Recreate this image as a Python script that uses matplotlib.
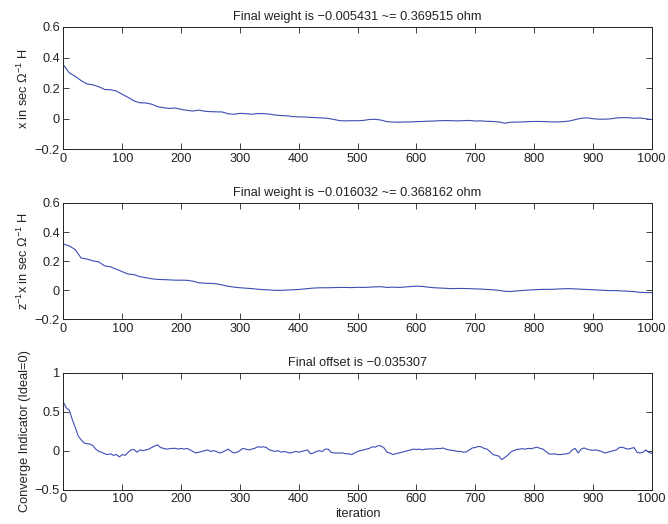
import numpy as np
import matplotlib
matplotlib.use("Agg")
import matplotlib.pyplot as plt

plt.rcParams['font.family'] = ['Liberation Sans', 'DejaVu Sans']
plt.rcParams['mathtext.fontset'] = 'custom'
plt.rcParams['mathtext.rm'] = 'Liberation Sans'
plt.rcParams['mathtext.it'] = 'Liberation Sans:italic'
plt.rcParams['mathtext.bf'] = 'Liberation Sans:bold'

# ---------------- data ----------------
weight_x = [0.352, 0.30, 0.278, 0.25, 0.228, 0.222, 0.21, 0.192, 0.19, 0.182,
            0.16, 0.14, 0.117, 0.105, 0.104, 0.096, 0.08, 0.073, 0.068, 0.071,
            0.062, 0.056, 0.051, 0.057, 0.05, 0.047, 0.046, 0.045, 0.033, 0.03,
            0.036, 0.034, 0.03, 0.035, 0.034, 0.031, 0.025, 0.022, 0.02, 0.015,
            0.013, 0.012, 0.01, 0.008, 0.006, 0.003, -0.004, -0.012, -0.013, -0.012,
            -0.012, -0.01, -0.004, -0.003, -0.008, -0.018, -0.021, -0.022, -0.02, -0.02,
            -0.018, -0.017, -0.015, -0.014, -0.012, -0.011, -0.012, -0.013, -0.012, -0.01,
            -0.014, -0.013, -0.016, -0.017, -0.02, -0.028, -0.022, -0.021, -0.02, -0.018,
            -0.017, -0.017, -0.018, -0.02, -0.02, -0.018, -0.014, -0.005, 0.004, 0.007,
            0.001, -0.002, -0.002, 0.0, 0.006, 0.008, 0.008, 0.004, 0.006, 0.001,
            -0.005]

weight_zx = [0.318, 0.305, 0.28, 0.222, 0.215, 0.203, 0.195, 0.168, 0.162, 0.145,
             0.128, 0.112, 0.108, 0.094, 0.087, 0.08, 0.075, 0.074, 0.072, 0.07,
             0.07, 0.069, 0.063, 0.052, 0.049, 0.048, 0.045, 0.037, 0.028, 0.022,
             0.018, 0.015, 0.012, 0.008, 0.005, 0.003, 0.0, 0.0, 0.002, 0.004,
             0.006, 0.01, 0.014, 0.017, 0.018, 0.018, 0.019, 0.02, 0.02, 0.019,
             0.021, 0.02, 0.022, 0.024, 0.025, 0.02, 0.022, 0.02, 0.023, 0.026,
             0.029, 0.027, 0.022, 0.018, 0.016, 0.014, 0.012, 0.013, 0.013, 0.012,
             0.01, 0.009, 0.006, 0.004, 0.0, -0.006, -0.008, -0.004, -0.001, 0.002,
             0.004, 0.006, 0.007, 0.007, 0.009, 0.011, 0.012, 0.01, 0.008, 0.006,
             0.004, 0.002, 0.0, -0.002, -0.002, -0.004, -0.006, -0.008, -0.014, -0.015,
             -0.016]

offset = [0.62, 0.55, 0.52, 0.40, 0.30, 0.19, 0.14, 0.10, 0.09, 0.085,
          0.065, 0.02, -0.01, -0.02, -0.04, -0.05, -0.04, -0.06, -0.05, -0.08,
          -0.05, -0.06, -0.02, 0.01, 0.015, -0.02, 0.01, 0.0, 0.01, 0.02,
          0.04, 0.06, 0.075, 0.04, 0.03, 0.02, 0.025, 0.03, 0.03, 0.02,
          0.03, 0.02, 0.03, 0.01, -0.01, -0.03, -0.02, -0.01, 0.0, 0.01,
          -0.01, 0.0, -0.01, -0.03, -0.02, 0.0, 0.02, -0.01, -0.03, -0.02,
          0.0, 0.03, 0.02, 0.01, 0.02, 0.03, 0.05, 0.045, 0.05, 0.04,
          0.01, 0.0, -0.01, 0.0, -0.02, -0.01, -0.02, -0.03, -0.02, -0.01,
          -0.02, -0.01, 0.0, 0.01, -0.04, -0.03, -0.01, 0.0, -0.01, 0.02,
          0.02, -0.02, -0.03, -0.03, -0.03, -0.03, -0.04, -0.04, -0.05, -0.03,
          -0.01, 0.0, 0.01, 0.02, 0.03, 0.05, 0.045, 0.065, 0.06, 0.035,
          -0.02, -0.03, -0.05, -0.04, -0.03, -0.02, -0.01, 0.0, 0.01, 0.02,
          0.015, 0.02, 0.01, 0.02, 0.02, 0.025, 0.02, 0.03, 0.025, 0.035,
          0.02, 0.01, 0.005, 0.0, -0.01, -0.01, -0.02, -0.015, 0.01, 0.035,
          0.04, 0.055, 0.05, 0.03, 0.02, -0.01, -0.05, -0.06, -0.07, -0.115,
          -0.09, -0.06, -0.02, 0.0, 0.015, 0.02, 0.025, 0.02, 0.03, 0.025,
          0.035, 0.045, 0.03, 0.02, -0.01, -0.04, -0.045, -0.04, -0.05, -0.05,
          -0.045, -0.04, -0.03, 0.01, 0.03, -0.03, 0.02, 0.035, 0.02, 0.01,
          0.005, 0.01, 0.0, -0.01, -0.03, -0.02, -0.01, 0.0, 0.01, 0.04,
          0.045, 0.03, 0.02, 0.03, 0.04, -0.02, -0.03, -0.02, 0.01, -0.02,
          -0.035]

x_ticks = [0, 100, 200, 300, 400, 500, 600, 700, 800, 900, 1000]
y_ticks_w = [-0.2, 0, 0.2, 0.4, 0.6]
y_labels_w = ['\u22120.2', '0', '0.2', '0.4', '0.6']
y_ticks_o = [-0.5, 0, 0.5, 1]
y_labels_o = ['\u22120.5', '0', '0.5', '1']

titles = ['Final weight is \u22120.005431 ~= 0.369515 ohm',
          'Final weight is \u22120.016032 ~= 0.368162 ohm',
          'Final offset is \u22120.035307']
ylabels = [r'x in sec $\mathregular{\Omega^{-1}}$ H',
           r'$\mathregular{z^{-1}}$x in sec $\mathregular{\Omega^{-1}}$ H',
           'Converge Indicator (Ideal=0)']

# ---------------- figure ----------------
fig = plt.figure(figsize=(6.68, 5.24), dpi=100)
left, width = 0.095, 0.8806
rects = [[left, 0.7147, width, 0.2338],
         [left, 0.3903, width, 0.2223],
         [left, 0.0658, width, 0.2224]]

series = [weight_x, weight_zx, offset]
yt = [y_ticks_w, y_ticks_w, y_ticks_o]
yl = [y_labels_w, y_labels_w, y_labels_o]
ylims = [(-0.2, 0.6), (-0.2, 0.6), (-0.5, 1)]
fs = 9.2
line_color = '#3c4db5'

for i in range(3):
    ax = fig.add_axes(rects[i])
    y = np.array(series[i])
    it = np.linspace(0, 1000, len(y))
    ax.plot(it, y, color=line_color, lw=0.8)
    ax.set_xlim(0, 1000)
    ax.set_ylim(*ylims[i])
    ax.set_xticks(x_ticks)
    ax.set_xticklabels([str(v) for v in x_ticks], fontsize=fs)
    ax.set_yticks(yt[i])
    ax.set_yticklabels(yl[i], fontsize=fs)
    ax.tick_params(direction='in', length=4, width=0.6, top=True, right=True,
                   pad=2.5, colors='#222222')
    for s in ax.spines.values():
        s.set_linewidth(0.7)
        s.set_color('#222222')
    ax.set_title(titles[i], fontsize=fs, pad=5, color='#222222')
    ax.set_ylabel(ylabels[i], fontsize=fs, labelpad=3, color='#222222')
    if i == 2:
        ax.set_xlabel('iteration', fontsize=fs, labelpad=2, color='#222222')

fig.savefig('out.png', dpi=100)
